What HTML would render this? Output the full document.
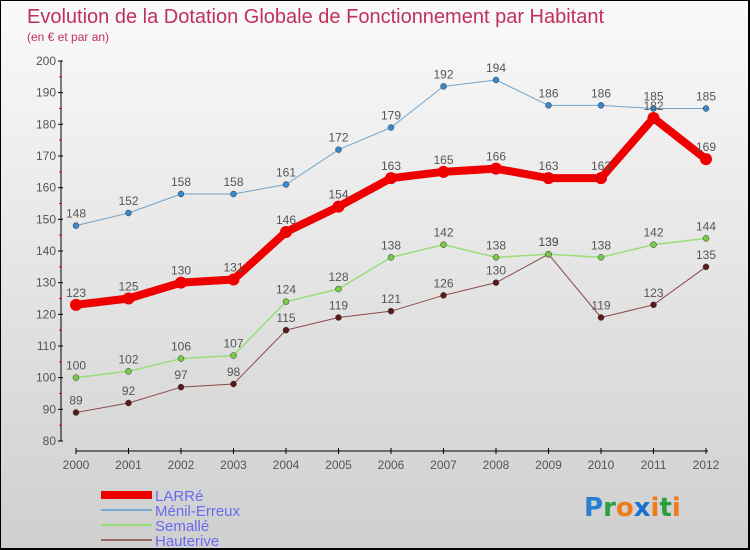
<!DOCTYPE html>
<html><head><meta charset="utf-8"><style>
body{margin:0}
#c{width:750px;height:550px;position:relative;box-sizing:border-box;border:1px solid #000;border-right:2px solid #000;border-bottom:2px solid #000;background:linear-gradient(#fafafa,#cfcfcf);font-family:"Liberation Sans",sans-serif;overflow:hidden}
</style></head><body>
<div id="c">
<svg id="s" width="750" height="550" style="position:absolute;left:0;top:0"></svg>
</div>
<script>
const years=[2000,2001,2002,2003,2004,2005,2006,2007,2008,2009,2010,2011,2012];
const larre=[123,125,130,131,146,154,163,165,166,163,163,182,169];
const menil=[148,152,158,158,161,172,179,192,194,186,186,185,185];
const semalle=[100,102,106,107,124,128,138,142,138,139,138,142,144];
const hauterive=[89,92,97,98,115,119,121,126,130,139,119,123,135];
const yTicks=[80,90,100,110,120,130,140,150,160,170,180,190,200];
const NS="http://www.w3.org/2000/svg";
const s=document.getElementById('s');
const X=i=>75+i*52.5;
const Y=v=>440-(v-80)*380/120;
function el(t,a,p){const e=document.createElementNS(NS,t);for(const k in a)e.setAttribute(k,a[k]);(p||s).appendChild(e);return e;}
let t=el('text',{x:26,y:22,'font-size':20,fill:'#c0305a'});t.textContent='Evolution de la Dotation Globale de Fonctionnement par Habitant';

t=el('text',{x:26,y:40,'font-size':12,fill:'#c0305a'});t.textContent='(en € et par an)';

let a=el('line',{x1:60,y1:60,x2:60,y2:440,stroke:'#000','stroke-width':1});

yTicks.forEach(v=>{el('line',{x1:57,x2:62,y1:Y(v),y2:Y(v),stroke:'#000'});
 if(v<200)el('line',{x1:58,x2:61,y1:Y(v+5),y2:Y(v+5),stroke:'#e00'});
 const tt=el('text',{x:55,y:Y(v)+4,'font-size':12,fill:'#555','text-anchor':'end'});tt.textContent=v;
 });
a=el('line',{x1:75,y1:450,x2:707,y2:450,stroke:'#000'});

years.forEach((y,i)=>{el('line',{x1:X(i),x2:X(i),y1:447,y2:453,stroke:'#000'});
 const tt=el('text',{x:X(i),y:468,'font-size':12,fill:'#555','text-anchor':'middle'});tt.textContent=y;
 });
function series(d,col,w,r,name,dot){
 const g=el('g',{});
 el('polyline',{points:d.map((v,i)=>X(i)+','+Y(v)).join(' '),fill:'none',stroke:col,'stroke-width':w,'stroke-linejoin':'round'},g);
 d.forEach((v,i)=>{const c=el('circle',{cx:X(i),cy:Y(v),r:r,fill:dot||col,stroke:dot?'#333':'none','stroke-width':0.5},g);
  
  const tt=el('text',{x:X(i),y:Y(v)-8,'font-size':12,fill:'#555','text-anchor':'middle'},g);tt.textContent=v;});
}
series(hauterive,'#8b4a4a',1,3,'hauterive','#5a1a1a');
series(semalle,'#99dd77',1.5,3,'semalle','#77cc44');
series(menil,'#6fa4cc',1,3,'menil-erreux','#3a88cc');
series(larre,'#ee0000',8,6,'larre');
const leg=[['LARRé','#ee0000',8],['Ménil-Erreux','#7aaad0',2],['Semallé','#99dd77',2],['Hauterive','#9a6a6a',2]];
leg.forEach((l,i)=>{const yy=494+i*15;
 const g=el('g',{});
 el('line',{x1:100,x2:151,y1:yy,y2:yy,stroke:l[1],'stroke-width':l[2]},g);
 const tt=el('text',{x:154,y:yy+6,'font-size':15,fill:'#6a6af0'},g);tt.textContent=l[0];});
const lg=el('text',{x:583,y:515,'font-size':26,'font-weight':'bold','font-family':'DejaVu Sans'});

[['P','#2a7fd4'],['r','#2aa040'],['o','#f07b1a'],['x','#1a6fd0'],['i','#f07b1a'],['t','#2aa040'],['i','#f07b1a']].forEach(p=>{el('tspan',{fill:p[1]},lg).textContent=p[0];});
</script>
</body></html>
